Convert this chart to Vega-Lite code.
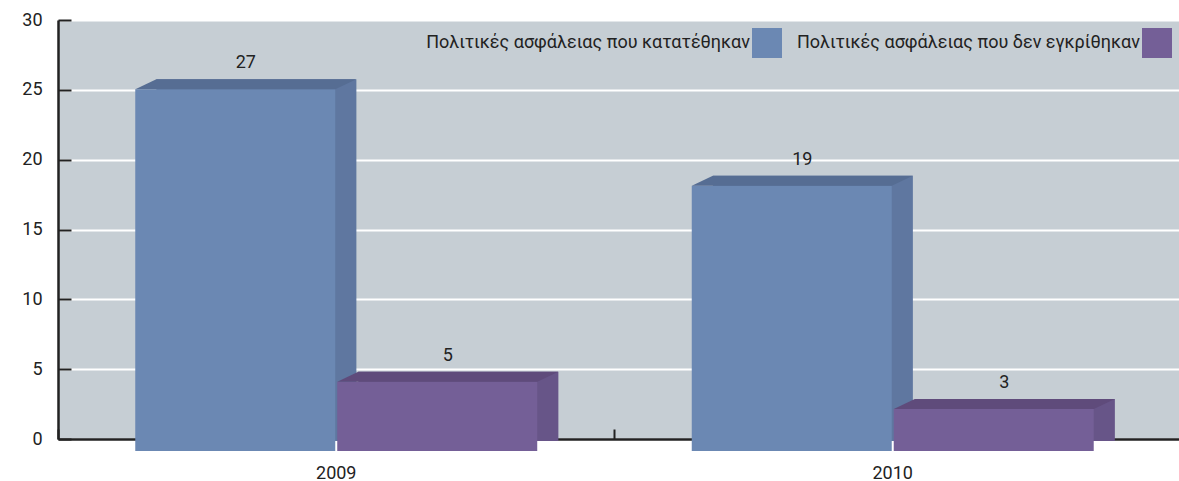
{
  "$schema": "https://vega.github.io/schema/vega-lite/v6.json",
  "width": 1121,
  "height": 419,
  "autosize": "none",
  "padding": {"left": 58, "top": 20, "right": 0, "bottom": 42},
  "background": "white",
  "config": {
    "view": {"fill": "#c6ced4", "stroke": null},
    "font": "Roboto"
  },
  "data": {
    "values": [
      {"year": "2009", "series": "Πολιτικές ασφάλειας που κατατέθηκαν", "bar": 25.9, "label": "27"},
      {"year": "2009", "series": "Πολιτικές ασφάλειας που δεν εγκρίθηκαν", "bar": 4.95, "label": "5"},
      {"year": "2010", "series": "Πολιτικές ασφάλειας που κατατέθηκαν", "bar": 19, "label": "19"},
      {"year": "2010", "series": "Πολιτικές ασφάλειας που δεν εγκρίθηκαν", "bar": 3, "label": "3"}
    ]
  },
  "encoding": {
    "x": {
      "field": "year",
      "type": "nominal",
      "scale": {"paddingInner": 0, "paddingOuter": 0.0072, "align": 0},
      "axis": {
        "title": null,
        "bandPosition": 0,
        "labelAngle": 0,
        "labelFontSize": 18,
        "labelColor": "#222222",
        "labelPadding": 35,
        "tickSize": -10,
        "tickWidth": 2,
        "tickColor": "#222222",
        "domainColor": "#222222",
        "domainWidth": 2.5,
        "grid": false
      }
    },
    "y": {
      "field": "bar",
      "type": "quantitative",
      "scale": {"domain": [0, 30], "nice": false},
      "axis": {
        "title": null,
        "values": [0, 5, 10, 15, 20, 25, 30],
        "labelFontSize": 18,
        "labelColor": "#222222",
        "labelPadding": 29,
        "tickSize": -13,
        "tickWidth": 2,
        "tickColor": "#222222",
        "domainColor": "#222222",
        "domainWidth": 2.5,
        "grid": true,
        "gridColor": "white",
        "gridWidth": 2
      }
    }
  },
  "resolve": {"scale": {"xOffset": "independent"}},
  "layer": [
    {
      "mark": {"type": "bar", "yOffset": 2, "y2Offset": 6},
      "encoding": {
        "xOffset": {
          "field": "series",
          "type": "nominal",
          "sort": ["Πολιτικές ασφάλειας που κατατέθηκαν", "Πολιτικές ασφάλειας που δεν εγκρίθηκαν"],
          "scale": {"type": "band", "paddingInner": 0.0099, "paddingOuter": 0.3825, "align": 0.6368}
        },
        "fill": {
          "condition": {"test": "datum.series === 'Πολιτικές ασφάλειας που κατατέθηκαν'", "value": "#5f77a0"},
          "value": "#675588"
        }
      }
    },
    {
      "mark": {"type": "bar", "yOffset": 12, "y2Offset": 12},
      "encoding": {
        "xOffset": {
          "field": "series",
          "type": "nominal",
          "sort": ["Πολιτικές ασφάλειας που κατατέθηκαν", "Πολιτικές ασφάλειας που δεν εγκρίθηκαν"],
          "scale": {"type": "band", "paddingInner": 0.0099, "paddingOuter": 0.3825, "align": 0.5}
        },
        "color": {
          "field": "series",
          "type": "nominal",
          "sort": ["Πολιτικές ασφάλειας που κατατέθηκαν", "Πολιτικές ασφάλειας που δεν εγκρίθηκαν"],
          "scale": {"range": ["#6b88b3", "#745f97"]},
          "legend": {
            "orient": "none",
            "legendX": 694,
            "legendY": 8,
            "direction": "horizontal",
            "title": null,
            "symbolType": "square",
            "symbolSize": 900,
            "symbolStrokeWidth": 0,
            "symbolOpacity": 1,
            "labelFontSize": 18,
            "labelColor": "#222222",
            "labelAlign": "right",
            "labelOffset": -32,
            "labelLimit": 500,
            "columnPadding": 14,
            "padding": 0
          }
        }
      }
    },
    {
      "mark": {
        "type": "point",
        "shape": "M -1 0.04525 L -0.81 -0.04525 L 1 -0.04525 L 0.81 0.04525 Z",
        "size": 48841,
        "filled": true,
        "opacity": 1,
        "strokeWidth": 0,
        "yOffset": 7
      },
      "encoding": {
        "xOffset": {
          "field": "series",
          "type": "nominal",
          "sort": ["Πολιτικές ασφάλειας που κατατέθηκαν", "Πολιτικές ασφάλειας που δεν εγκρίθηκαν"],
          "scale": {"type": "band", "paddingInner": 0.0099, "paddingOuter": 0.3825, "align": 0.5684}
        },
        "fill": {
          "condition": {"test": "datum.series === 'Πολιτικές ασφάλειας που κατατέθηκαν'", "value": "#566d93"},
          "value": "#5f4b7b"
        }
      }
    },
    {
      "mark": {"type": "text", "fontSize": 18, "color": "#222222", "dy": -9, "baseline": "alphabetic", "align": "center"},
      "encoding": {
        "xOffset": {
          "field": "series",
          "type": "nominal",
          "sort": ["Πολιτικές ασφάλειας που κατατέθηκαν", "Πολιτικές ασφάλειας που δεν εγκρίθηκαν"],
          "scale": {"type": "band", "paddingInner": 0.0099, "paddingOuter": 0.3825, "align": 0.5684}
        },
        "text": {"field": "label"}
      }
    }
  ]
}
